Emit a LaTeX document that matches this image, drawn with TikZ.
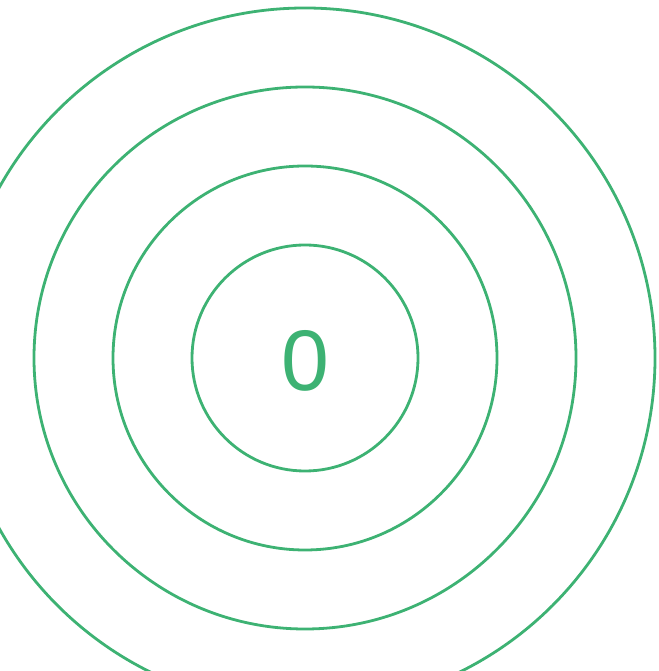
\documentclass[tikz,border=0pt]{standalone}
\usepackage{fontspec}
\setmainfont{Liberation Sans}
\usetikzlibrary{positioning}
\definecolor{ringgreen}{HTML}{3DB273}

\begin{document}
\begin{tikzpicture}[x=1pt,y=1pt,ring/.style={draw=ringgreen,line width=2.8pt}]
  \useasboundingbox (0,0) rectangle (658,671);
  % Centre of the rings
  \coordinate (c) at (305,313);
  % Rings, from the inside out
  \foreach \r in {113,192,271,350}
    \draw[ring] (c) circle (\r);
  % Label in the middle
  \node[text=ringgreen,font=\fontsize{86}{86}\selectfont,inner sep=0pt] (zero) at ([yshift=-3pt]c) {0};
\end{tikzpicture}
\end{document}
